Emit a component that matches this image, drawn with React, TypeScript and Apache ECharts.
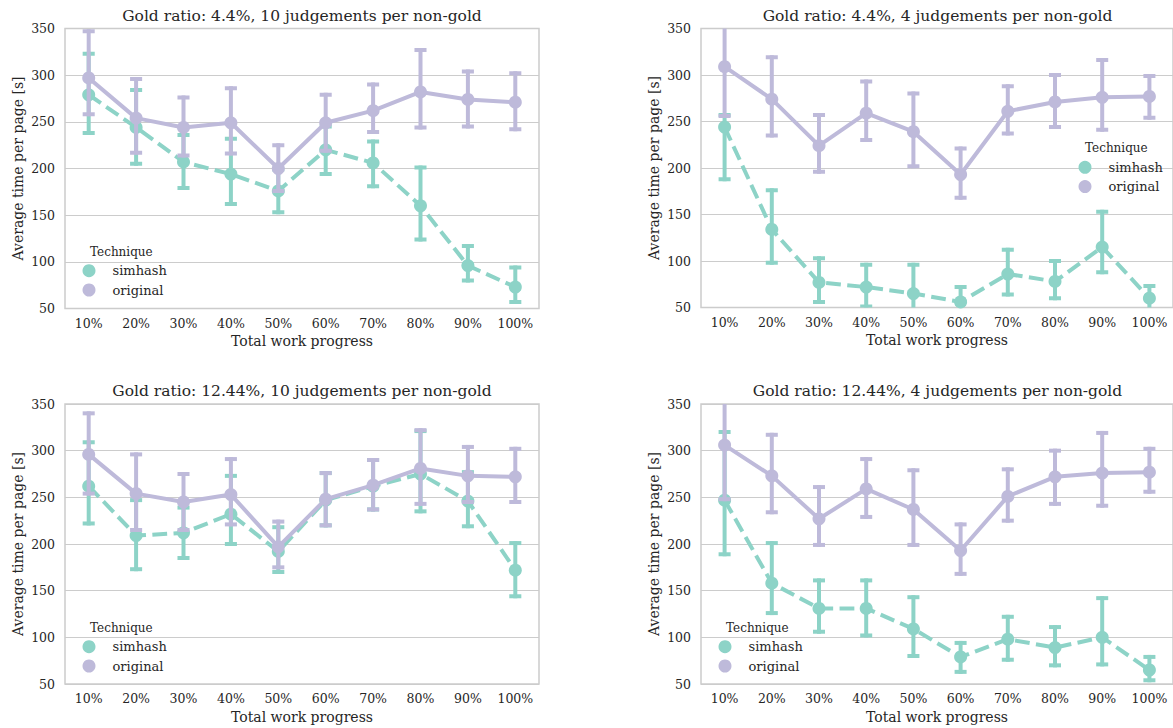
import React, { useEffect, useRef } from "react";
import * as echarts from "echarts";

const categories = ["10%", "20%", "30%", "40%", "50%", "60%", "70%", "80%", "90%", "100%"];
const techniqueNames = ["simhash", "original"];
const panelTitles = [
  "Gold ratio: 4.4%, 10 judgements per non-gold",
  "Gold ratio: 4.4%, 4 judgements per non-gold",
  "Gold ratio: 12.44%, 10 judgements per non-gold",
  "Gold ratio: 12.44%, 4 judgements per non-gold",
];
const yTicks = { min: 50, max: 350, interval: 50 };

// Panel 1: 4.4%, 10 judgements
const simhashMean1 = [279, 244, 207, 194, 176, 220, 206, 160, 96, 73];
const simhashLow1 = [238, 205, 179, 162, 153, 194, 181, 124, 80, 57];
const simhashHigh1 = [323, 284, 236, 232, 199, 245, 229, 201, 117, 94];
const originalMean1 = [297, 254, 244, 249, 200, 249, 262, 282, 274, 271];
const originalLow1 = [258, 217, 214, 216, 176, 219, 239, 244, 245, 242];
const originalHigh1 = [347, 296, 276, 286, 225, 279, 290, 327, 304, 302];

// Panel 2: 4.4%, 4 judgements
const simhashMean2 = [244, 134, 77, 72, 65, 56, 86, 78, 115, 60];
const simhashLow2 = [188, 98, 56, 51, 38, 40, 64, 60, 88, 46];
const simhashHigh2 = [257, 176, 103, 96, 96, 72, 112, 100, 153, 73];
const originalMean2 = [309, 274, 224, 259, 239, 193, 261, 271, 276, 277];
const originalLow2 = [256, 235, 196, 230, 202, 168, 237, 244, 241, 254];
const originalHigh2 = [365, 319, 257, 293, 280, 221, 288, 300, 316, 299];

// Panel 3: 12.44%, 10 judgements
const simhashMean3 = [262, 209, 212, 232, 192, 247, 262, 275, 246, 172];
const simhashLow3 = [222, 173, 185, 200, 170, 220, 237, 235, 219, 144];
const simhashHigh3 = [309, 247, 239, 273, 218, 276, 290, 321, 277, 201];
const originalMean3 = [296, 254, 245, 253, 197, 248, 263, 281, 273, 272];
const originalLow3 = [254, 215, 215, 221, 175, 220, 237, 243, 245, 245];
const originalHigh3 = [340, 296, 275, 291, 224, 276, 290, 322, 304, 302];

// Panel 4: 12.44%, 4 judgements
const simhashMean4 = [247, 158, 131, 131, 109, 79, 98, 89, 100, 65];
const simhashLow4 = [189, 126, 106, 102, 80, 63, 76, 70, 71, 54];
const simhashHigh4 = [320, 201, 161, 161, 143, 94, 122, 111, 142, 79];
const originalMean4 = [306, 273, 227, 259, 237, 193, 251, 272, 276, 277];
const originalLow4 = [248, 234, 199, 229, 199, 168, 225, 243, 241, 256];
const originalHigh4 = [365, 317, 261, 291, 279, 221, 280, 300, 319, 302];

const GREEN = "#8dd3c7";
const PURPLE = "#bebada";
const TEXT = "#262626";
const FONT = "DejaVu Serif";

const panels = [
  { sm: simhashMean1, sl: simhashLow1, sh: simhashHigh1, om: originalMean1, ol: originalLow1, oh: originalHigh1 },
  { sm: simhashMean2, sl: simhashLow2, sh: simhashHigh2, om: originalMean2, ol: originalLow2, oh: originalHigh2 },
  { sm: simhashMean3, sl: simhashLow3, sh: simhashHigh3, om: originalMean3, ol: originalLow3, oh: originalHigh3 },
  { sm: simhashMean4, sl: simhashLow4, sh: simhashHigh4, om: originalMean4, ol: originalLow4, oh: originalHigh4 },
];

const gridBoxes = [
  { left: 65, top: 28.5, width: 474, height: 280 },
  { left: 701, top: 28.5, width: 473, height: 279 },
  { left: 65, top: 404, width: 474, height: 280 },
  { left: 701, top: 404, width: 473, height: 280 },
];
const legendPos = [
  { left: 82.5, top: 264.2, tx: 90, ty: 251.7 },
  { left: 1078.5, top: 160.8, tx: 1085, ty: 148.3 },
  { left: 82.5, top: 640.2, tx: 90, ty: 627.7 },
  { left: 718.5, top: 640.2, tx: 726, ty: 627.7 },
];
const titlePos = [
  { x: 302, y: 15.7 },
  { x: 937.5, y: 15.7 },
  { x: 302, y: 391 },
  { x: 937.5, y: 391 },
];

function errRender(color: string) {
  return (params: any, api: any) => {
    const x = api.value(0);
    const lo = api.value(1);
    const hi = api.value(2);
    const pLo = api.coord([x, lo]);
    const pHi = api.coord([x, hi]);
    const bw = api.size([1, 0])[0];
    const half = bw * 0.085;
    const style = { stroke: color, lineWidth: 4, lineCap: "square", fill: null };
    return {
      type: "group",
      children: [
        { type: "line", shape: { x1: pLo[0], y1: pLo[1], x2: pHi[0], y2: pHi[1] }, style },
        { type: "line", shape: { x1: pLo[0] - half, y1: pLo[1], x2: pLo[0] + half, y2: pLo[1] }, style },
        { type: "line", shape: { x1: pHi[0] - half, y1: pHi[1], x2: pHi[0] + half, y2: pHi[1] }, style },
      ],
    };
  };
}

export default function App() {
  const ref = useRef<HTMLDivElement>(null);
  useEffect(() => {
    if (!ref.current) return;
    const chart = echarts.init(ref.current, null, { renderer: "svg" });

    const grid = gridBoxes.map((g) => ({
      ...g,
      show: true,
      borderColor: "#cccccc",
      borderWidth: 1.5,
      backgroundColor: "#ffffff",
      containLabel: false,
    }));

    const xAxis = gridBoxes.map((_, i) => ({
      type: "category",
      gridIndex: i,
      data: categories,
      boundaryGap: true,
      axisTick: { show: false },
      axisLine: { show: false },
      splitLine: { show: false },
      axisLabel: { fontFamily: FONT, fontSize: 12.5, color: TEXT, margin: 8 },
      name: "Total work progress",
      nameLocation: "middle",
      nameGap: 25.5,
      nameTextStyle: { fontFamily: FONT, fontSize: 14, color: TEXT },
    }));

    const yAxis = gridBoxes.map((_, i) => ({
      type: "value",
      gridIndex: i,
      min: yTicks.min,
      max: yTicks.max,
      interval: yTicks.interval,
      axisTick: { show: false },
      axisLine: { show: false },
      splitLine: { show: true, lineStyle: { color: "#cccccc", width: 1 } },
      axisLabel: { fontFamily: FONT, fontSize: 12.5, color: TEXT, margin: 10 },
      name: "Average time per page [s]",
      nameLocation: "middle",
      nameGap: 40.5,
      nameRotate: 90,
      nameTextStyle: { fontFamily: FONT, fontSize: 14, color: TEXT },
    }));

    const series: any[] = [];
    panels.forEach((p, i) => {
      const sErr = categories.map((_, k) => [k, p.sl[k], p.sh[k]]);
      const oErr = categories.map((_, k) => [k, p.ol[k], p.oh[k]]);
      series.push({
        type: "custom",
        name: techniqueNames[0],
        xAxisIndex: i,
        yAxisIndex: i,
        data: sErr,
        encode: { x: 0, y: [1, 2] },
        renderItem: errRender(GREEN),
        clip: true,
        z: 2,
        itemStyle: { color: GREEN },
      });
      series.push({
        type: "line",
        name: techniqueNames[0],
        xAxisIndex: i,
        yAxisIndex: i,
        data: p.sm,
        symbol: "circle",
        symbolSize: 13,
        clip: true,
        z: 3,
        itemStyle: { color: GREEN },
        lineStyle: { color: GREEN, width: 4, type: [14.8, 6.4], cap: "butt" },
      });
      series.push({
        type: "custom",
        name: techniqueNames[1],
        xAxisIndex: i,
        yAxisIndex: i,
        data: oErr,
        encode: { x: 0, y: [1, 2] },
        renderItem: errRender(PURPLE),
        clip: true,
        z: 4,
        itemStyle: { color: PURPLE },
      });
      series.push({
        type: "line",
        name: techniqueNames[1],
        xAxisIndex: i,
        yAxisIndex: i,
        data: p.om,
        symbol: "circle",
        symbolSize: 13,
        clip: true,
        z: 5,
        itemStyle: { color: PURPLE },
        lineStyle: { color: PURPLE, width: 4, type: "solid", cap: "round", join: "round" },
      });
    });

    const legend = legendPos.map((l) => ({
      data: techniqueNames.map((n) => ({ name: n, icon: "circle" })),
      orient: "vertical",
      left: l.left,
      top: l.top,
      itemWidth: 13,
      itemHeight: 13,
      itemGap: 6.3,
      padding: 0,
      selectedMode: false,
      textStyle: { fontFamily: FONT, fontSize: 13, color: TEXT, padding: [0, 0, 0, 12] },
    }));

    const graphic: any[] = [];
    panelTitles.forEach((t, i) => {
      graphic.push({
        type: "text",
        x: titlePos[i].x,
        y: titlePos[i].y,
        style: {
          text: t,
          fontFamily: FONT,
          fontSize: 15.5,
          fill: TEXT,
          textAlign: "center",
          textVerticalAlign: "middle",
        },
      });
    });
    legendPos.forEach((l) => {
      graphic.push({
        type: "text",
        x: l.tx,
        y: l.ty,
        style: {
          text: "Technique",
          fontFamily: FONT,
          fontSize: 12,
          fill: TEXT,
          textAlign: "left",
          textVerticalAlign: "middle",
        },
      });
    });

    chart.setOption({
      animation: false,
      backgroundColor: "#ffffff",
      grid,
      xAxis,
      yAxis,
      legend,
      series,
      graphic,
    });
    return () => chart.dispose();
  }, []);

  return (
    <div
      ref={ref}
      style={{ position: "fixed", left: 0, top: 0, width: 1173, height: 728, background: "#fff" }}
    />
  );
}
